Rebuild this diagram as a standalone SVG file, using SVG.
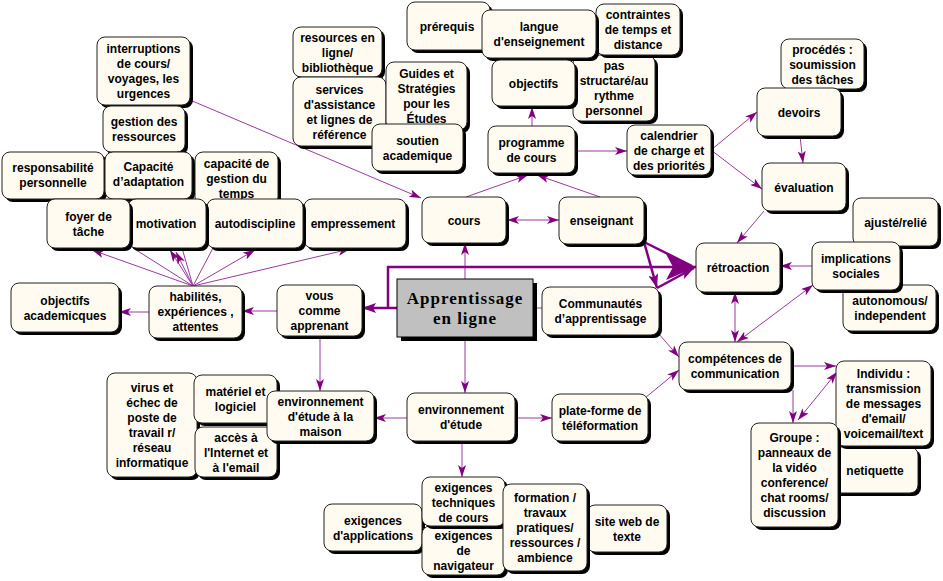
<svg xmlns="http://www.w3.org/2000/svg" width="943" height="581" viewBox="0 0 943 581">
<style>
.sh{fill:#000}
.bx{fill:#FFFBF0;stroke:#222;stroke-width:1}
.t{font-family:"Liberation Sans",Arial,sans-serif;font-weight:bold;font-size:12px;fill:#000;text-anchor:middle}
.ti{font-family:"Liberation Serif","Times New Roman",serif;font-weight:bold;font-size:17px;letter-spacing:1px;fill:#000;text-anchor:middle}
.c{fill:none;stroke:#9A3A9E;stroke-width:1}
.ck{fill:none;stroke:#800080;stroke-width:2.5}
</style>
<defs>
<marker id="a" viewBox="0 0 12 8" markerWidth="12" markerHeight="8" refX="12" refY="4" orient="auto-start-reverse" markerUnits="userSpaceOnUse"><path d="M0,0 L12,4 L0,8 L3,4 z" fill="#800080"/></marker>
<marker id="ab" viewBox="0 0 30 26" markerWidth="30" markerHeight="26" refX="30" refY="13" orient="auto" markerUnits="userSpaceOnUse"><path d="M0,0 L30,13 L0,26 L7,13 z" fill="#800080"/></marker>
<marker id="am" viewBox="0 0 14 10" markerWidth="14" markerHeight="10" refX="14" refY="5" orient="auto" markerUnits="userSpaceOnUse"><path d="M0,0 L14,5 L0,10 L3,5 z" fill="#800080"/></marker>
</defs>
<rect width="943" height="581" fill="#fff"/>
<g id="connectors">
<path class="c" d="M190,100 L421,198" marker-end="url(#a)"/>
<path class="c" d="M466,197 L528,175" marker-end="url(#a)"/>
<path class="c" d="M600,197 L537,175" marker-end="url(#a)"/>
<path class="c" d="M532,126 L532,107" marker-end="url(#a)"/>
<path class="c" d="M575,151 L627,151" marker-end="url(#a)"/>
<path class="c" d="M711,150 L757,112" marker-end="url(#a)"/>
<path class="c" d="M711,150 L762,189" marker-end="url(#a)"/>
<path class="c" d="M800,136 L803,163" marker-end="url(#a)"/>
<path class="c" d="M764,211 L737,243" marker-end="url(#a)"/>
<path class="c" d="M812,266 L780,266" marker-end="url(#a)"/>
<path class="c" d="M735,292 L735,342" marker-start="url(#a)" marker-end="url(#a)"/>
<path class="c" d="M813,285 L737,342" marker-start="url(#a)" marker-end="url(#a)"/>
<path class="c" d="M507,220 L559,220" marker-start="url(#a)" marker-end="url(#a)"/>
<path class="c" d="M465,279 L465,243" marker-end="url(#a)"/>
<path class="ck" d="M644,242 L692,266"/>
<path class="ck" d="M644,242 L657,288" marker-end="url(#am)"/>
<path class="ck" d="M657,288 L694,268" marker-end="url(#am)"/>
<path class="ck" d="M388,308 L388,267 L696,267" marker-end="url(#ab)"/>
<path class="ck" d="M397,308 L362,308" marker-end="url(#am)"/>
<path class="c" d="M277,311 L242,311" marker-end="url(#a)"/>
<path class="c" d="M149,312 L119,312" marker-end="url(#a)"/>
<path class="c" d="M193,286 L92,250" marker-end="url(#a)"/>
<path class="c" d="M193,286 L170,250" marker-end="url(#a)"/>
<path class="c" d="M193,286 L176,252" marker-end="url(#a)"/>
<path class="c" d="M193,286 L133,248"/>
<path class="c" d="M193,286 L182,248"/>
<path class="c" d="M193,286 L213,248"/>
<path class="c" d="M193,286 L255,250" marker-end="url(#a)"/>
<path class="c" d="M193,286 L350,249" marker-end="url(#a)"/>
<path class="c" d="M320,336 L320,391" marker-end="url(#a)"/>
<path class="c" d="M465,337 L465,393" marker-end="url(#a)"/>
<path class="c" d="M407,418 L374,418" marker-end="url(#a)"/>
<path class="c" d="M515,418 L552,418" marker-end="url(#a)"/>
<path class="c" d="M462,441 L462,477" marker-end="url(#a)"/>
<path class="c" d="M645,398 L679,370" marker-end="url(#a)"/>
<path class="c" d="M658,333 L679,357" marker-end="url(#a)"/>
<path class="c" d="M533,308 L542,308"/>
<path class="c" d="M792,366 L836,366" marker-end="url(#a)"/>
<path class="c" d="M793,390 L793,423" marker-end="url(#a)"/>
<path class="c" d="M837,372 L798,420" marker-start="url(#a)" marker-end="url(#a)"/>
</g>
<g id="n-interruptions"><rect class="sh" x="100" y="40" width="93" height="68" rx="8"/><rect class="bx" x="97" y="37" width="93" height="68" rx="8"/><text class="t" x="143.5" y="53"><tspan x="143.5">interruptions</tspan><tspan x="143.5" dy="15">de cours/</tspan><tspan x="143.5" dy="15">voyages, les</tspan><tspan x="143.5" dy="15">urgences</tspan></text></g>
<g id="n-gestion"><rect class="sh" x="106" y="109" width="82" height="46" rx="8"/><rect class="bx" x="103" y="106" width="82" height="46" rx="8"/><text class="t" x="144" y="126"><tspan x="144">gestion des</tspan><tspan x="144" dy="15">ressources</tspan></text></g>
<g id="n-responsabilite"><rect class="sh" x="5" y="155" width="102" height="47" rx="8"/><rect class="bx" x="2" y="152" width="102" height="47" rx="8"/><text class="t" x="53" y="172"><tspan x="53">responsabilité</tspan><tspan x="53" dy="15">personnelle</tspan></text></g>
<g id="n-capacite"><rect class="sh" x="108" y="155" width="87" height="47" rx="8"/><rect class="bx" x="105" y="152" width="87" height="47" rx="8"/><text class="t" x="148.5" y="171"><tspan x="148.5">Capacité</tspan><tspan x="148.5" dy="15">d’adaptation</tspan></text></g>
<g id="n-temps"><rect class="sh" x="198" y="155" width="83" height="53" rx="8"/><rect class="bx" x="195" y="152" width="83" height="53" rx="8"/><text class="t" x="236.5" y="167.5"><tspan x="236.5">capacité  de</tspan><tspan x="236.5" dy="15">gestion du</tspan><tspan x="236.5" dy="15">temps</tspan></text></g>
<g id="n-empressement"><rect class="sh" x="307" y="202" width="102" height="49" rx="8"/><rect class="bx" x="304" y="199" width="102" height="49" rx="8"/><text class="t" x="353" y="228">empressement</text></g>
<g id="n-autodiscipline"><rect class="sh" x="210" y="202" width="96" height="49" rx="8"/><rect class="bx" x="207" y="199" width="96" height="49" rx="8"/><text class="t" x="255" y="228">autodiscipline</text></g>
<g id="n-motivation"><rect class="sh" x="131" y="202" width="78" height="49" rx="8"/><rect class="bx" x="128" y="199" width="78" height="49" rx="8"/><text class="t" x="166" y="228">motivation</text></g>
<g id="n-foyer"><rect class="sh" x="50" y="202" width="83" height="49" rx="8"/><rect class="bx" x="47" y="199" width="83" height="49" rx="8"/><text class="t" x="88.5" y="220.5"><tspan x="88.5">foyer de</tspan><tspan x="88.5" dy="15">tâche</tspan></text></g>
<g id="n-objacad"><rect class="sh" x="14" y="286" width="108" height="49" rx="8"/><rect class="bx" x="11" y="283" width="108" height="49" rx="8"/><text class="t" x="65" y="305"><tspan x="65">objectifs</tspan><tspan x="65" dy="15">academicques</tspan></text></g>
<g id="n-habilites"><rect class="sh" x="152" y="289" width="93" height="52" rx="8"/><rect class="bx" x="149" y="286" width="93" height="52" rx="8"/><text class="t" x="195.5" y="301"><tspan x="195.5">habilités,</tspan><tspan x="195.5" dy="15">expériences ,</tspan><tspan x="195.5" dy="15">attentes</tspan></text></g>
<g id="n-vous"><rect class="sh" x="280" y="288" width="85" height="51" rx="8"/><rect class="bx" x="277" y="285" width="85" height="51" rx="8"/><text class="t" x="319.5" y="300"><tspan x="319.5">vous</tspan><tspan x="319.5" dy="15">comme</tspan><tspan x="319.5" dy="15">apprenant</tspan></text></g>
<g id="n-resources"><rect class="sh" x="296" y="30" width="89" height="50" rx="8"/><rect class="bx" x="293" y="27" width="89" height="50" rx="8"/><text class="t" x="337.5" y="41.5"><tspan x="337.5">resources en</tspan><tspan x="337.5" dy="15">ligne/</tspan><tspan x="337.5" dy="15">bibliothèque</tspan></text></g>
<g id="n-services"><rect class="sh" x="296" y="80" width="93" height="69" rx="8"/><rect class="bx" x="293" y="77" width="93" height="69" rx="8"/><text class="t" x="339.5" y="93.5"><tspan x="339.5">services</tspan><tspan x="339.5" dy="15">d'assistance</tspan><tspan x="339.5" dy="15">et lignes de</tspan><tspan x="339.5" dy="15">référence</tspan></text></g>
<g id="n-guides"><rect class="sh" x="389" y="65" width="81" height="68" rx="8"/><rect class="bx" x="386" y="62" width="81" height="68" rx="8"/><text class="t" x="426.5" y="78"><tspan x="426.5">Guides et</tspan><tspan x="426.5" dy="15">Stratégies</tspan><tspan x="426.5" dy="15">pour les</tspan><tspan x="426.5" dy="15">Études</tspan></text></g>
<g id="n-soutien"><rect class="sh" x="375" y="127" width="91" height="47" rx="8"/><rect class="bx" x="372" y="124" width="91" height="47" rx="8"/><text class="t" x="417.5" y="144.5"><tspan x="417.5">soutien</tspan><tspan x="417.5" dy="15">academique</tspan></text></g>
<g id="n-prerequis"><rect class="sh" x="410" y="5" width="83" height="48" rx="8"/><rect class="bx" x="407" y="2" width="83" height="48" rx="8"/><text class="t" x="447" y="30.5">prérequis</text></g>
<g id="n-pas"><rect class="sh" x="576" y="58" width="82" height="66" rx="8"/><rect class="bx" x="573" y="55" width="82" height="66" rx="8"/><text class="t" x="614" y="70"><tspan x="614">pas</tspan><tspan x="614" dy="15">structaré/au</tspan><tspan x="614" dy="15">rythme</tspan><tspan x="614" dy="15">personnel</tspan></text></g>
<g id="n-contraintes"><rect class="sh" x="599" y="7" width="84" height="51" rx="8"/><rect class="bx" x="596" y="4" width="84" height="51" rx="8"/><text class="t" x="638" y="19"><tspan x="638">contraintes</tspan><tspan x="638" dy="15">de temps et</tspan><tspan x="638" dy="15">distance</tspan></text></g>
<g id="n-langue"><rect class="sh" x="485" y="13" width="114" height="48" rx="8"/><rect class="bx" x="482" y="10" width="114" height="48" rx="8"/><text class="t" x="539" y="31"><tspan x="539">langue</tspan><tspan x="539" dy="15">d'enseignement</tspan></text></g>
<g id="n-objectifs"><rect class="sh" x="495" y="63" width="83" height="46" rx="8"/><rect class="bx" x="492" y="60" width="83" height="46" rx="8"/><text class="t" x="533.5" y="87.5">objectifs</text></g>
<g id="n-programme"><rect class="sh" x="491" y="129" width="87" height="47" rx="8"/><rect class="bx" x="488" y="126" width="87" height="47" rx="8"/><text class="t" x="531.5" y="146.5"><tspan x="531.5">programme</tspan><tspan x="531.5" dy="15">de cours</tspan></text></g>
<g id="n-calendrier"><rect class="sh" x="630" y="128" width="84" height="50" rx="8"/><rect class="bx" x="627" y="125" width="84" height="50" rx="8"/><text class="t" x="669" y="139.5"><tspan x="669">calendrier</tspan><tspan x="669" dy="15">de charge et</tspan><tspan x="669" dy="15">des priorités</tspan></text></g>
<g id="n-procedes"><rect class="sh" x="784" y="42" width="83" height="50" rx="8"/><rect class="bx" x="781" y="39" width="83" height="50" rx="8"/><text class="t" x="822.5" y="54"><tspan x="822.5">procédés :</tspan><tspan x="822.5" dy="15">soumission</tspan><tspan x="822.5" dy="15">des tâches</tspan></text></g>
<g id="n-devoirs"><rect class="sh" x="760" y="91" width="84" height="48" rx="8"/><rect class="bx" x="757" y="88" width="84" height="48" rx="8"/><text class="t" x="799" y="116.5">devoirs</text></g>
<g id="n-evaluation"><rect class="sh" x="765" y="166" width="84" height="48" rx="8"/><rect class="bx" x="762" y="163" width="84" height="48" rx="8"/><text class="t" x="804" y="191.5">évaluation</text></g>
<g id="n-ajuste"><rect class="sh" x="856" y="201" width="85" height="48" rx="8"/><rect class="bx" x="853" y="198" width="85" height="48" rx="8"/><text class="t" x="895.5" y="226.5">ajusté/relié</text></g>
<g id="n-autonomous"><rect class="sh" x="846" y="288" width="93" height="46" rx="8"/><rect class="bx" x="843" y="285" width="93" height="46" rx="8"/><text class="t" x="890" y="305"><tspan x="890">autonomous/</tspan><tspan x="890" dy="15">independent</tspan></text></g>
<g id="n-implications"><rect class="sh" x="815" y="245" width="88" height="48" rx="8"/><rect class="bx" x="812" y="242" width="88" height="48" rx="8"/><text class="t" x="856" y="263"><tspan x="856">implications</tspan><tspan x="856" dy="15">sociales</tspan></text></g>
<g id="n-retroaction"><rect class="sh" x="699" y="246" width="84" height="49" rx="8"/><rect class="bx" x="696" y="243" width="84" height="49" rx="8"/><text class="t" x="738" y="272">rétroaction</text></g>
<g id="n-cours"><rect class="sh" x="425" y="200" width="84" height="46" rx="8"/><rect class="bx" x="422" y="197" width="84" height="46" rx="8"/><text class="t" x="464" y="224.5">cours</text></g>
<g id="n-enseignant"><rect class="sh" x="562" y="200" width="85" height="47" rx="8"/><rect class="bx" x="559" y="197" width="85" height="47" rx="8"/><text class="t" x="601.5" y="225">enseignant</text></g>
<g id="n-communautes"><rect class="sh" x="545" y="290" width="117" height="48" rx="8"/><rect class="bx" x="542" y="287" width="117" height="48" rx="8"/><text class="t" x="600.5" y="308"><tspan x="600.5">Communautés</tspan><tspan x="600.5" dy="15">d’apprentissage</tspan></text></g>
<g id="n-central"><rect x="401" y="283" width="136" height="58" fill="#000"/><rect x="397" y="279" width="136" height="58" fill="#C0C0C0" stroke="#000" stroke-width="1"/><text class="ti" x="465" y="304"><tspan x="465">Apprentissage</tspan><tspan x="465" dy="20">en ligne</tspan></text></g>
<g id="n-competences"><rect class="sh" x="682" y="345" width="112" height="48" rx="8"/><rect class="bx" x="679" y="342" width="112" height="48" rx="8"/><text class="t" x="735" y="363"><tspan x="735">compétences de</tspan><tspan x="735" dy="15">communication</tspan></text></g>
<g id="n-netiquette"><rect class="sh" x="829" y="450" width="92" height="46" rx="8"/><rect class="bx" x="826" y="447" width="92" height="46" rx="8"/><text class="t" x="875" y="475">netiquette</text></g>
<g id="n-individu"><rect class="sh" x="839" y="364" width="95" height="85" rx="8"/><rect class="bx" x="836" y="361" width="95" height="85" rx="8"/><text class="t" x="883.5" y="378"><tspan x="883.5">Individu :</tspan><tspan x="883.5" dy="15">transmission</tspan><tspan x="883.5" dy="15">de messages</tspan><tspan x="883.5" dy="15">d'email/</tspan><tspan x="883.5" dy="15">voicemail/text</tspan></text></g>
<g id="n-groupe"><rect class="sh" x="754" y="426" width="87" height="104" rx="8"/><rect class="bx" x="751" y="423" width="87" height="104" rx="8"/><text class="t" x="794.5" y="442"><tspan x="794.5">Groupe :</tspan><tspan x="794.5" dy="15">panneaux de</tspan><tspan x="794.5" dy="15">la vidéo</tspan><tspan x="794.5" dy="15">conference/</tspan><tspan x="794.5" dy="15">chat rooms/</tspan><tspan x="794.5" dy="15">discussion</tspan></text></g>
<g id="n-virus"><rect class="sh" x="110" y="376" width="90" height="104" rx="8"/><rect class="bx" x="107" y="373" width="90" height="104" rx="8"/><text class="t" x="152" y="392"><tspan x="152">virus et</tspan><tspan x="152" dy="15">échec de</tspan><tspan x="152" dy="15">poste de</tspan><tspan x="152" dy="15">travail r/</tspan><tspan x="152" dy="15">réseau</tspan><tspan x="152" dy="15">informatique</tspan></text></g>
<g id="n-materiel"><rect class="sh" x="197" y="378" width="83" height="48" rx="8"/><rect class="bx" x="194" y="375" width="83" height="48" rx="8"/><text class="t" x="235.5" y="396"><tspan x="235.5">matériel et</tspan><tspan x="235.5" dy="15">logiciel</tspan></text></g>
<g id="n-acces"><rect class="sh" x="198" y="430" width="82" height="50" rx="8"/><rect class="bx" x="195" y="427" width="82" height="50" rx="8"/><text class="t" x="236" y="441.5"><tspan x="236">accès à</tspan><tspan x="236" dy="15">l'Internet et</tspan><tspan x="236" dy="15">à l'email</tspan></text></g>
<g id="n-maison"><rect class="sh" x="270" y="394" width="107" height="50" rx="8"/><rect class="bx" x="267" y="391" width="107" height="50" rx="8"/><text class="t" x="320.5" y="405.5"><tspan x="320.5">environnement</tspan><tspan x="320.5" dy="15">d'étude à la</tspan><tspan x="320.5" dy="15">maison</tspan></text></g>
<g id="n-environnement"><rect class="sh" x="410" y="396" width="108" height="48" rx="8"/><rect class="bx" x="407" y="393" width="108" height="48" rx="8"/><text class="t" x="461" y="414"><tspan x="461">environnement</tspan><tspan x="461" dy="15">d'étude</tspan></text></g>
<g id="n-plateforme"><rect class="sh" x="555" y="397" width="96" height="47" rx="8"/><rect class="bx" x="552" y="394" width="96" height="47" rx="8"/><text class="t" x="600" y="414.5"><tspan x="600">plate-forme de</tspan><tspan x="600" dy="15">téléformation</tspan></text></g>
<g id="n-applications"><rect class="sh" x="327" y="507" width="98" height="47" rx="8"/><rect class="bx" x="324" y="504" width="98" height="47" rx="8"/><text class="t" x="373" y="524.5"><tspan x="373">exigences</tspan><tspan x="373" dy="15">d'applications</tspan></text></g>
<g id="n-siteweb"><rect class="sh" x="590" y="508" width="80" height="47" rx="8"/><rect class="bx" x="587" y="505" width="80" height="47" rx="8"/><text class="t" x="627" y="526"><tspan x="627">site web de</tspan><tspan x="627" dy="15">texte</tspan></text></g>
<g id="n-navigateur"><rect class="sh" x="425" y="529" width="83" height="49" rx="8"/><rect class="bx" x="422" y="526" width="83" height="49" rx="8"/><text class="t" x="463.5" y="539.5"><tspan x="463.5">exigences</tspan><tspan x="463.5" dy="15">de</tspan><tspan x="463.5" dy="15">navigateur</tspan></text></g>
<g id="n-techniques"><rect class="sh" x="425" y="480" width="83" height="49" rx="8"/><rect class="bx" x="422" y="477" width="83" height="49" rx="8"/><text class="t" x="463.5" y="492"><tspan x="463.5">exigences</tspan><tspan x="463.5" dy="15">techniques</tspan><tspan x="463.5" dy="15">de cours</tspan></text></g>
<g id="n-formation"><rect class="sh" x="506" y="487" width="84" height="87" rx="8"/><rect class="bx" x="503" y="484" width="84" height="87" rx="8"/><text class="t" x="545" y="502"><tspan x="545">formation /</tspan><tspan x="545" dy="15">travaux</tspan><tspan x="545" dy="15">pratiques/</tspan><tspan x="545" dy="15">ressources /</tspan><tspan x="545" dy="15">ambience</tspan></text></g>
</svg>
